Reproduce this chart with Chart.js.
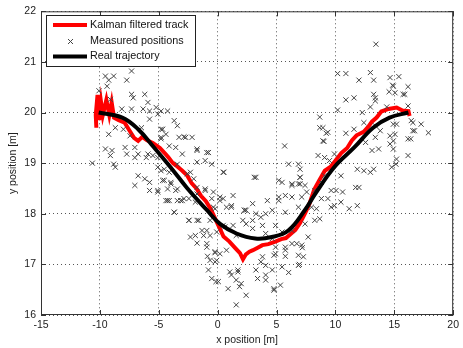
<!DOCTYPE html>
<html>
<head>
<meta charset="utf-8">
<script src="https://cdn.jsdelivr.net/npm/chart.js@4"></script>
<style>
  html, body { margin: 0; padding: 0; background: #fff; }
  #wrap { width: 463px; height: 348px; }
</style>
</head>
<body>
<div id="wrap"><canvas id="kalmanChart" width="463" height="348"></canvas></div>
<script>
// Kalman filter demo - x/y positions

const xTicks = [-15, -10, -5, 0, 5, 10, 15, 20];
const yTicks = [16, 17, 18, 19, 20, 21, 22];

// real trajectory
const trajX = [-10.1, -8.1, -6.75, -5.4, -4.0, -2.6, -0.9, 0.2, 1.6, 3.2, 4.6, 6.0, 7.4, 8.3, 9.9, 11.6, 13.2, 14.6, 16.2];
const trajY = [20.0, 19.9, 19.67, 19.31, 18.92, 18.51, 18.07, 17.8, 17.61, 17.51, 17.54, 17.67, 18.07, 18.4, 18.92, 19.31, 19.7, 19.9, 20.0];

// kalman filtered track
const trackX = [-10.3, -10.35, -10.2, -10.05, -9.9, -9.75, -9.45, -9.2, -9.0, -8.8, -8.4, -7.9, -7.5, -7.1, -6.75, -6.4, -6.0, -5.5, -4.9, -4.5, -4.2, -3.8, -3.4, -3.0, -2.6, -2.2, -1.8, -1.4, -1.0, -0.6, -0.2, 0.1, 0.5, 1.0, 1.5, 1.9, 2.15, 2.4, 2.7, 3.0, 3.4, 3.8, 4.3, 4.9, 5.4, 5.8, 6.2, 6.6, 7.0, 7.4, 7.8, 8.2, 8.6, 9.1, 9.6, 10.0, 10.5, 11.0, 11.4, 11.8, 12.4, 12.8, 13.1, 13.5, 13.9, 14.5, 15.2, 15.7, 16.2, 16.3];
const trackY = [19.7, 19.95, 20.35, 19.85, 20.2, 19.95, 20.25, 19.95, 20.2, 19.9, 19.85, 19.8, 19.65, 19.5, 19.44, 19.52, 19.45, 19.4, 19.3, 19.2, 19.12, 19.0, 18.93, 18.85, 18.76, 18.6, 18.5, 18.35, 18.25, 18.1, 17.9, 17.75, 17.55, 17.45, 17.32, 17.22, 17.1, 17.2, 17.25, 17.28, 17.33, 17.38, 17.4, 17.45, 17.5, 17.52, 17.6, 17.68, 17.82, 18.0, 18.2, 18.48, 18.65, 18.85, 18.93, 19.05, 19.2, 19.3, 19.45, 19.55, 19.62, 19.72, 19.82, 19.9, 20.02, 20.07, 20.1, 20.04, 20.03, 19.93];

// measured positions
const measX = [
  -9.53, -8.83, -9.25, -7.31, -7.72, -9.39, -7.31, -7.17, -6.19, -5.92, -6.33, -5.78, -5.22, -4.8, -7.31, -8.14, -10.08, -9.11,
  13.44, 10.19, 10.89, 12.97, 12.0, 13.25, 14.64, 15.39, 14.86, 14.56, 15.06, 15.89, 16.17, 13.39, 11.58, 10.89, 13.39, 12.97, 14.36, 16.17, 10.19, 12.28, 8.67,
  8.67, 9.36, 8.94, 14.92, 15.75, 16.44, 16.58, 16.4, 14.92, 14.92, 17.28, 13.25, 17.9,
  -9.25, -8.69, -8.0, -9.53, -8.97, -9.11, -8.83, -8.69, -10.64, -7.86, -7.72, -7.03, -7.03, -6.75, -6.75, -6.19, -5.78, -7.03, -5.78, -6.06,
  -5.92, -5.08, -4.8, -4.8, -4.39, -3.42, -3.28, -2.72, -2.17, -3.56, -3.0, -4.53, -4.53, -3.97, -4.25, -3.42, -5.08, -4.25, -3.42, -3.0,
  -3.69, -1.75, -1.75, -0.92, -1.06, -0.5, -2.58, -2.03, -1.06, -0.36, -1.75, -0.36, 0.47, 0.19, -1.75, -1.33, -0.64, -6.47, -7.44,
  -1.75, -3.69, -5.08, -4.25,
  3.25, 1.31, 0.19, 1.17, 2.42, 3.25, 3.67, 4.08, 4.64, 5.19, 5.47, 6.31, 6.86, 7.0, 5.75, 6.86, 5.75, 4.92, 3.81, 2.97, 2.42, 4.08, 4.64,
  1.58, 0.61, -0.08, -0.92, -2.31, -2.44, -0.92, -0.22, 0.19, 0.75, -0.64, -0.08, -0.78, -0.5, 0.06, 1.03, 1.72, 1.58, 1.86, 0.89,
  3.25, 3.39, 4.08, 4.64, 4.78, 5.47, 6.86, 3.81, 4.92, 5.75, 6.31, 7.14, 7.28, 5.47, 6.31, 7.42, 7.69, 6.31, 7.14, 7.97,
  5.75, 6.72, 7.19, 5.75, 6.86, 6.03, 6.94, 4.78, 5.33, 3.67, 4.08, 4.08, 2.42, 1.58, 1.17, 1.72, 2.0, 4.78, 4.92,
  -1.75, -0.92, -0.86, -0.22, -0.22, -0.14,
  8.94, 9.22, 9.03, 5.69, 10.89, 11.58, 12.42, 12.56, 13.39, 13.81, 13.11, 13.67, 14.64, 14.64, 15.19, 16.17, 16.58, 16.72, 16.17, 15.19,
  15.14, 14.78, 13.25, 12.97, 12.42, 11.86, 11.72, 12.0, 11.86, 11.17, 10.47, 10.61, 10.06, 10.47, 9.64, 8.81, 9.36, 9.64, 9.92, 8.39,
  8.67, 8.25, 8.53, 9.08, 9.5, 9.92, 6.86, 6.03, 7.0, 7.0, 7.0, 5.19, 6.31, 7.42, 7.56, 5.19, 8.25, 9.08, 3.11, 4.22, 2.97, 2.28, 0.75,
  8.81, 13.39, 14.92, 15.06,
  -5.78, -4.67, -4.81, -2.86, -4.11, -5.5, -3.42, -5.08, -4.81, -4.11, -2.31, 0.53, -4.67, -3.97, -3.56, -5.08, -4.39, -4.11, -3.14, -2.86,
  -2.44, -1.89, 0.47, 1.17, -0.5, -0.22, -3.69, -2.44, -1.61, -0.64, -1.89, -1.19, 0.47, 1.31, 2.28, 2.14, 2.97, -1.06, -0.78, -1.75
];
const measY = [
  20.72, 20.72, 20.64, 20.82, 20.64, 20.52, 20.36, 20.29, 20.36, 20.2, 20.07, 20.03, 20.1, 20.03, 20.07, 20.07, 20.43, 20.26,
  21.35, 20.77, 20.77, 20.79, 20.64, 20.64, 20.69, 20.71, 20.54, 20.41, 20.39, 20.36, 20.51, 20.29, 20.29, 20.25, 20.23, 20.11, 20.11, 20.13, 20.05, 20.0, 19.91,
  19.7, 19.61, 19.44, 20.52, 20.36, 19.84, 19.64, 19.48, 19.44, 19.28, 19.77, 20.36, 19.6,
  19.57, 19.7, 19.67, 19.28, 19.25, 19.15, 18.98, 18.92, 19.0, 19.31, 19.18, 19.31, 19.11, 19.18, 18.75, 18.69, 18.62, 18.56, 18.46, 19.11,
  19.18, 19.11, 19.67, 19.51, 19.57, 19.74, 19.51, 19.51, 19.51, 19.31, 19.18, 18.88, 18.66, 18.59, 18.49, 18.49, 18.43, 18.26, 18.26, 18.26,
  18.03, 19.25, 19.02, 19.21, 19.05, 18.98, 18.79, 18.69, 18.49, 18.43, 18.39, 18.13, 18.82, 18.26, 17.87, 17.67, 17.57, 19.7, 19.54,
  19.28, 19.84, 19.97, 20.03,
  18.72, 18.36, 18.33, 18.16, 18.07, 18.0, 17.93, 18.0, 18.07, 18.26, 18.62, 18.59, 18.59, 18.72, 18.36, 18.13, 18.03, 17.77, 17.77, 17.71, 17.8, 17.61, 17.51,
  17.57, 17.74, 17.64, 17.67, 17.54, 17.87, 17.41, 17.25, 17.21, 17.28, 17.08, 17.08, 16.89, 16.72, 16.66, 16.85, 16.89, 16.69, 16.56, 16.52,
  16.89, 16.72, 16.98, 16.89, 16.52, 16.95, 16.98, 17.15, 17.21, 17.28, 17.41, 17.38, 17.15, 17.64, 17.67, 17.8, 17.54, 18.33, 18.33, 18.13,
  17.34, 17.41, 17.33, 17.16, 17.18, 16.84, 17.0, 16.49, 16.59, 17.05, 16.79, 16.69, 16.39, 16.2, 16.79, 16.85, 16.62, 17.18, 17.34,
  17.42, 17.34, 17.16, 17.23, 17.05, 16.66,
  19.7, 19.59, 19.43, 19.34, 19.59, 19.67, 19.8, 19.41, 19.51, 19.64, 19.25, 19.28, 19.54, 19.38, 19.77, 19.48, 19.8, 19.64, 19.15, 19.08,
  18.98, 18.92, 18.88, 18.82, 18.85, 18.88, 18.52, 18.52, 18.16, 18.1, 18.23, 18.43, 18.46, 18.75, 18.46, 18.3, 18.3, 18.13, 18.16, 18.1,
  17.9, 17.87, 19.15, 19.11, 19.05, 19.18, 18.98, 18.98, 18.88, 18.72, 18.59, 18.66, 18.56, 18.56, 18.43, 18.33, 18.46, 18.75, 18.72, 18.26, 18.2, 18.07, 18.13,
  18.62, 19.74, 19.77, 19.57,
  19.87, 19.67, 19.48, 19.52, 19.34, 19.15, 18.98, 18.92, 18.85, 18.82, 18.82, 18.82, 18.66, 18.62, 18.46, 18.46, 18.26, 18.26, 18.26, 18.3,
  18.3, 18.23, 18.3, 18.13, 18.3, 18.1, 18.03, 17.87, 17.87, 17.87, 17.57, 17.57, 17.77, 17.77, 18.07, 17.87, 17.87, 18.46, 19.21, 18.52
];

const seriesNames = ['Kalman filtered track', 'Measured positions', 'Real trajectory'];

const FONT = 'Liberation Sans, Arial, sans-serif';
const toPts = (xs, ys) => xs.map((x, i) => ({ x, y: ys[i] }));

// axes box, inward ticks, legend box (matlab style)
const matlabFrame = {
  id: 'matlabFrame',
  afterDraw(chart) {
    const { ctx, chartArea: a, scales } = chart;
    ctx.save();
    ctx.strokeStyle = '#333';
    ctx.lineWidth = 1;
    ctx.strokeRect(a.left + 0.5, a.top + 0.5, a.right - a.left - 1, a.bottom - a.top - 1);
    ctx.beginPath();
    xTicks.forEach(v => {
      const px = Math.round(scales.x.getPixelForValue(v)) + 0.5;
      ctx.moveTo(px, a.bottom); ctx.lineTo(px, a.bottom - 5);
      ctx.moveTo(px, a.top); ctx.lineTo(px, a.top + 5);
    });
    yTicks.forEach(v => {
      const py = Math.round(scales.y.getPixelForValue(v)) + 0.5;
      ctx.moveTo(a.left, py); ctx.lineTo(a.left + 5, py);
      ctx.moveTo(a.right, py); ctx.lineTo(a.right - 5, py);
    });
    ctx.stroke();

    // legend
    const lx = 46, ly = 15, lw = 149, lh = 51;
    ctx.fillStyle = '#fff';
    ctx.fillRect(lx, ly, lw, lh);
    ctx.strokeStyle = '#222';
    ctx.strokeRect(lx + 0.5, ly + 0.5, lw, lh);
    const rows = [25, 41.5, 56.5];
    ctx.lineWidth = 4;
    ctx.strokeStyle = '#f00';
    ctx.beginPath(); ctx.moveTo(53, rows[0]); ctx.lineTo(87, rows[0]); ctx.stroke();
    ctx.strokeStyle = '#000';
    ctx.beginPath(); ctx.moveTo(53, rows[2]); ctx.lineTo(87, rows[2]); ctx.stroke();
    ctx.lineWidth = 1;
    ctx.strokeStyle = '#444';
    ctx.beginPath();
    ctx.moveTo(68, rows[1] - 2.5); ctx.lineTo(73, rows[1] + 2.5);
    ctx.moveTo(73, rows[1] - 2.5); ctx.lineTo(68, rows[1] + 2.5);
    ctx.stroke();
    ctx.fillStyle = '#111';
    ctx.font = '10.8px ' + FONT;
    ctx.textBaseline = 'middle';
    seriesNames.forEach((t, i) => ctx.fillText(t, 90, rows[i]));
    ctx.restore();
  }
};

new Chart(document.getElementById('kalmanChart'), {
  type: 'scatter',
  data: {
    datasets: [
      { label: seriesNames[0], data: toPts(trackX, trackY), showLine: true, borderColor: '#f00', backgroundColor: '#f00', borderWidth: 4, pointRadius: 0, tension: 0, order: 3 },
      { label: seriesNames[1], data: toPts(measX, measY), showLine: false, pointStyle: 'crossRot', pointRadius: 3.6, borderColor: '#444', borderWidth: 1, order: 2 },
      { label: seriesNames[2], data: toPts(trajX, trajY), showLine: true, borderColor: '#000', backgroundColor: '#000', borderWidth: 4, pointRadius: 0, tension: 0.4, order: 1 }
    ]
  },
  options: {
    responsive: false,
    animation: false,
    layout: { padding: { top: 10, right: 2, left: 0, bottom: 0 } },
    plugins: { legend: { display: false }, tooltip: { enabled: false } },
    scales: {
      x: {
        type: 'linear', min: -15, max: 20,
        afterFit: s => { s.height = 33; },
        afterBuildTicks: s => { s.ticks = xTicks.map(v => ({ value: v })); },
        grid: { color: '#555', lineWidth: 1, drawTicks: false },
        border: { display: false, dash: [1, 3] },
        ticks: { padding: 4, color: '#222', font: { family: FONT, size: 10.5 }, maxRotation: 0 },
        title: { display: true, text: 'x position [m]', color: '#222', font: { family: FONT, size: 10.5 }, padding: { top: 0, bottom: 2 } }
      },
      y: {
        type: 'linear', min: 16, max: 22,
        afterFit: s => { s.width = 41; },
        afterBuildTicks: s => { s.ticks = yTicks.map(v => ({ value: v })); },
        grid: { color: '#555', lineWidth: 1, drawTicks: false },
        border: { display: false, dash: [1, 3] },
        ticks: { padding: 5, color: '#222', font: { family: FONT, size: 10.5 } },
        title: { display: true, text: 'y position [m]', color: '#222', font: { family: FONT, size: 10.5 }, padding: { top: 7, bottom: 0 } }
      }
    }
  },
  plugins: [matlabFrame]
});
</script>
</body>
</html>
